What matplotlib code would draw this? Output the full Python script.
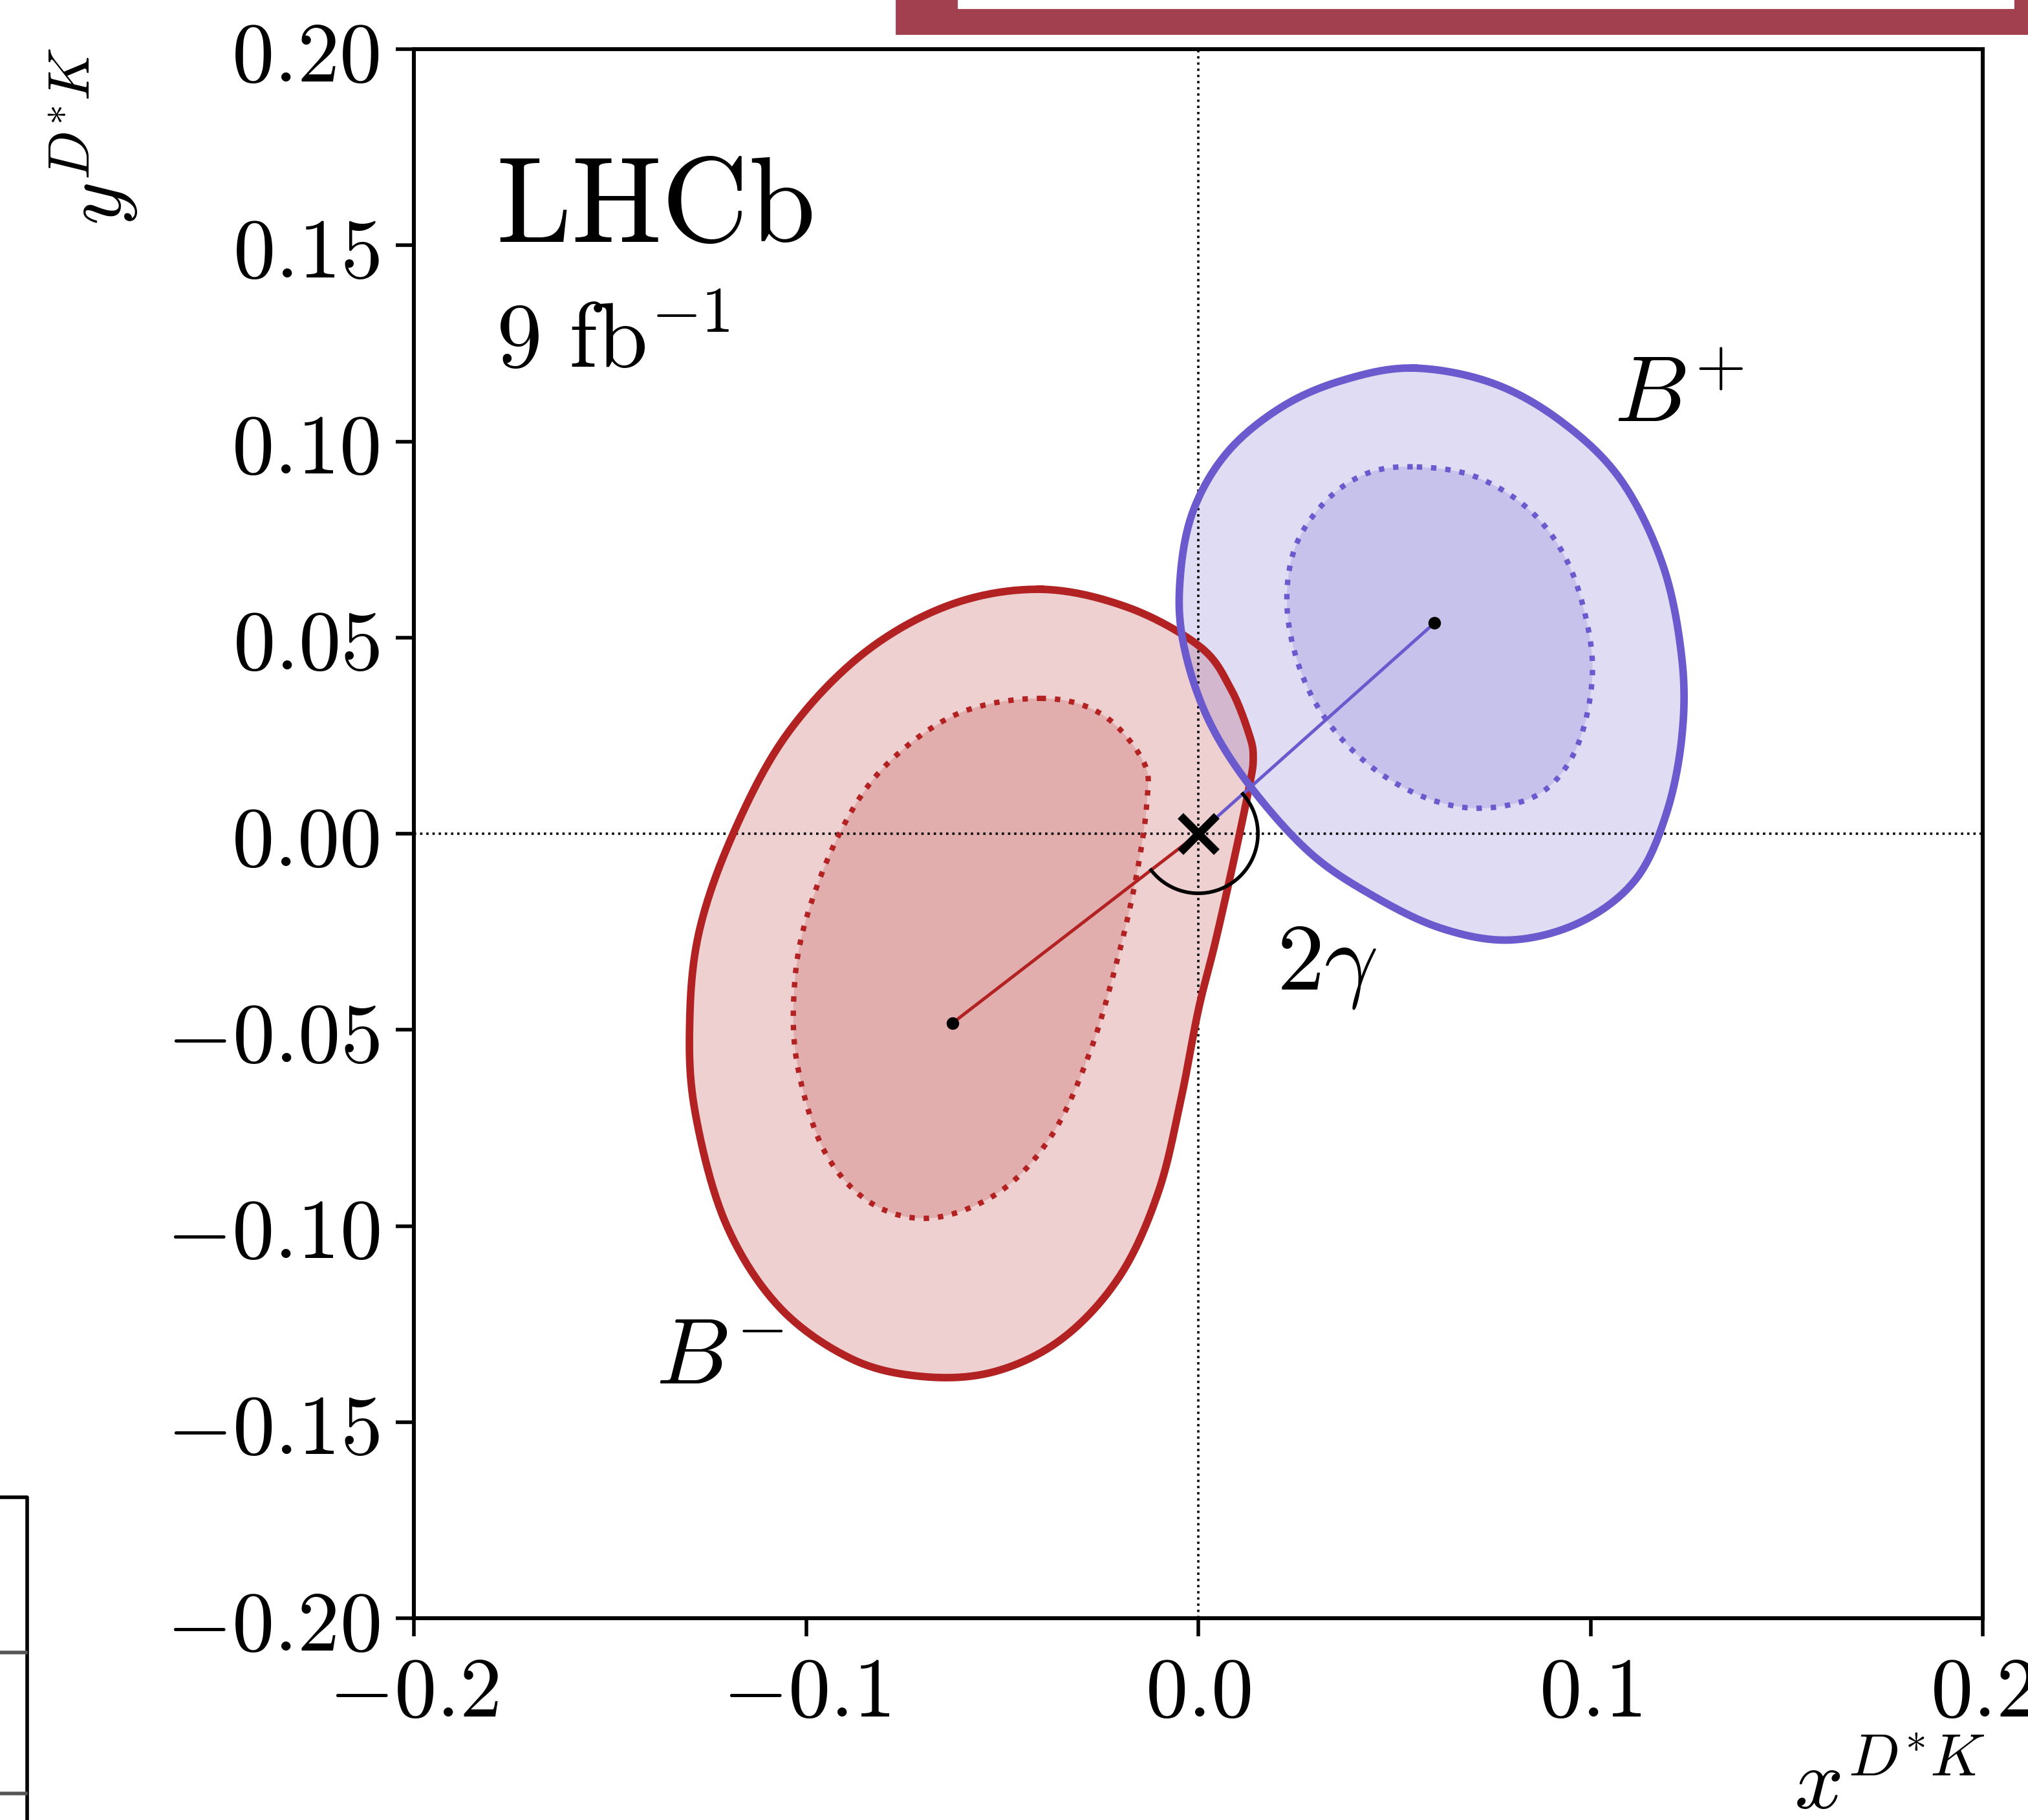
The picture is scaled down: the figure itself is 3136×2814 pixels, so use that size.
import numpy as np
import matplotlib
matplotlib.use('Agg')
import matplotlib.pyplot as plt
from matplotlib.lines import Line2D
from matplotlib.patches import Rectangle

plt.rcParams['mathtext.fontset'] = 'cm'
plt.rcParams['font.family'] = 'serif'

# contours (x, y)
bm_outer_x = [-0.0402, -0.0180, 0.0004, 0.0082, 0.0130, 0.0140, 0.0130, 0.0091, 0.0043, 0.0000,
              -0.0044, -0.0102, -0.0199, -0.0344, -0.0518, -0.0702, -0.0886, -0.1070, -0.1205,
              -0.1282, -0.1297, -0.1273, -0.1186, -0.1050, -0.0857, -0.0634]
bm_outer_y = [0.0623, 0.0577, 0.0477, 0.0371, 0.0252, 0.0192, 0.0120, -0.0066, -0.0278, -0.0450,
              -0.0676, -0.0914, -0.1126, -0.1285, -0.1371, -0.1384, -0.1338, -0.1205, -0.0993,
              -0.0715, -0.0490, -0.0251, 0.0000, 0.0252, 0.0457, 0.0583]
bm_inner_x = [-0.0402, -0.0247, -0.0141, -0.0131, -0.0160, -0.0209, -0.0276, -0.0373, -0.0508,
              -0.0683, -0.0837, -0.0954, -0.1021, -0.1031, -0.1002, -0.0915, -0.0799, -0.0615]
bm_inner_y = [0.0345, 0.0305, 0.0186, 0.0080, -0.0119, -0.0331, -0.0556, -0.0768, -0.0914,
              -0.0980, -0.0940, -0.0808, -0.0596, -0.0410, -0.0225, 0.0000, 0.0172, 0.0305]
bp_outer_x = [0.0549, 0.0752, 0.0928, 0.1078, 0.1185, 0.1233, 0.1233, 0.1193, 0.1114, 0.0973,
              0.0796, 0.0619, 0.0443, 0.0284, 0.0133, 0.0027, -0.0034, -0.0048, -0.0017, 0.0072,
              0.0213, 0.0372]
bp_outer_y = [0.1187, 0.1148, 0.1049, 0.0901, 0.0683, 0.0446, 0.0248, 0.0050, -0.0118, -0.0226,
              -0.0271, -0.0241, -0.0157, -0.0048, 0.0120, 0.0288, 0.0466, 0.0624, 0.0812, 0.0970,
              0.1088, 0.1157]
bp_inner_x = [0.0557, 0.0707, 0.0849, 0.0946, 0.0999, 0.0999, 0.0955, 0.0867, 0.0725, 0.0584,
              0.0443, 0.0328, 0.0257, 0.0226, 0.0248, 0.0328, 0.0434]
bp_inner_y = [0.0935, 0.0910, 0.0821, 0.0683, 0.0495, 0.0347, 0.0199, 0.0100, 0.0065, 0.0090,
              0.0169, 0.0288, 0.0426, 0.0584, 0.0733, 0.0851, 0.0920]

bm_center = (-0.0627, -0.0483)
bp_center = (0.0602, 0.0537)

xticks = [-0.2, -0.1, 0.0, 0.1, 0.2]
yticks = [-0.2, -0.15, -0.1, -0.05, 0.0, 0.05, 0.1, 0.15, 0.2]

red = '#B22222'
blue = '#6A5ACD'


def smooth_closed(xs, ys, n=24):
    # closed Catmull-Rom curve through the read points
    P = np.column_stack([xs, ys])
    N = len(P)
    t = np.linspace(0, 1, n, endpoint=False)[:, None]
    segs = []
    for i in range(N):
        p0, p1, p2, p3 = P[i - 1], P[i], P[(i + 1) % N], P[(i + 2) % N]
        segs.append(0.5 * (2 * p1 + (-p0 + p2) * t + (2 * p0 - 5 * p1 + 4 * p2 - p3) * t ** 2
                           + (-p0 + 3 * p1 - 3 * p2 + p3) * t ** 3))
    out = np.vstack(segs)
    out = np.vstack([out, out[:1]])
    return out[:, 0], out[:, 1]


fig = plt.figure(figsize=(15.68, 14.07), dpi=200)
ax = fig.add_axes([640 / 3136, 1 - 2502 / 2814, 2426 / 3136, 2426 / 2814])

for ox, oy, ix, iy, c in [(bm_outer_x, bm_outer_y, bm_inner_x, bm_inner_y, red),
                          (bp_outer_x, bp_outer_y, bp_inner_x, bp_inner_y, blue)]:
    sx, sy = smooth_closed(ox, oy)
    ax.fill(sx, sy, color=c, alpha=0.21, lw=0, zorder=1)
    ax.plot(sx, sy, color=c, lw=4.2, zorder=4, solid_joinstyle='round')
    sx, sy = smooth_closed(ix, iy)
    ax.fill(sx, sy, color=c, alpha=0.2, lw=0, zorder=1)
    ax.plot(sx, sy, color=c, lw=3.0, ls=':', zorder=4)

ax.axhline(0, color='black', lw=1.3, ls=':', zorder=2)
ax.axvline(0, color='black', lw=1.3, ls=':', zorder=2)

# lines from origin to the two centres
ax.plot([0, bm_center[0]], [0, bm_center[1]], color=red, lw=1.8, zorder=5)
ax.plot([0, bp_center[0]], [0, bp_center[1]], color=blue, lw=1.8, zorder=5)

# angle arc
a1 = np.arctan2(bm_center[1], bm_center[0]) % (2 * np.pi)
a2 = np.arctan2(bp_center[1], bp_center[0]) + 2 * np.pi
ang = np.linspace(a1, a2, 200)
r = 0.0152
ax.plot(r * np.cos(ang), r * np.sin(ang), color='black', lw=2, zorder=5)

ax.plot(0, 0, marker='x', ms=20, mew=4.5, color='black', zorder=6)
ax.plot(*bm_center, marker='o', ms=6, color='black', zorder=6)
ax.plot(*bp_center, marker='o', ms=6, color='black', zorder=6)

ax.text(-0.179, 0.151, r'$\mathrm{LHCb}$', fontsize=67, va='baseline')
ax.text(-0.179, 0.119, r'$9\ \mathrm{fb}^{-1}$', fontsize=51, va='baseline')
ax.text(0.106, 0.105, r'$B^{+}$', fontsize=52, va='baseline')
ax.text(-0.1383, -0.1402, r'$B^{-}$', fontsize=52, va='baseline')
ax.text(0.020, -0.0396, r'$2\gamma$', fontsize=53, va='baseline')

ax.set_xlim(-0.2, 0.2)
ax.set_ylim(-0.2, 0.2)
ax.set_xticks(xticks)
ax.set_yticks(yticks)
ax.set_xticklabels([r'$%.1f$' % v for v in xticks])
ax.set_yticklabels([r'$%.2f$' % v for v in yticks])
ax.tick_params(direction='out', length=10, width=2, labelsize=47, pad=9,
               top=False, right=False)
for s in ax.spines.values():
    s.set_linewidth(2.2)

ax.text(1.0016, -0.1216, r'$x^{D^{*}K}$', fontsize=48, transform=ax.transAxes,
        ha='right', va='baseline')
ax.text(-0.2333, 1.0008, r'$y^{D^{*}K}$', fontsize=46, transform=ax.transAxes,
        rotation=90, ha='left', va='top')

# screenshot remnants around the figure
W, H = 3136, 2814
fig.patches.append(Rectangle((1386 / W, 1 - 52 / H), (W - 1386) / W, 52 / H,
                             transform=fig.transFigure, color='#A3404F', zorder=0))
fig.patches.append(Rectangle((1482 / W, 1 - 12 / H), (3113 - 1482) / W, 12 / H,
                             transform=fig.transFigure, color='white', zorder=1))
fig.lines.append(Line2D([0, 42 / W, 42 / W], [1 - 2315 / H, 1 - 2315 / H, 0],
                        transform=fig.transFigure, color='black', lw=2))
fig.lines.append(Line2D([0, 40 / W], [1 - 2555 / H] * 2, transform=fig.transFigure,
                        color='#555555', lw=2))
fig.lines.append(Line2D([0, 40 / W], [1 - 2773 / H] * 2, transform=fig.transFigure,
                        color='#555555', lw=2))

fig.savefig('out.png', dpi=200)
